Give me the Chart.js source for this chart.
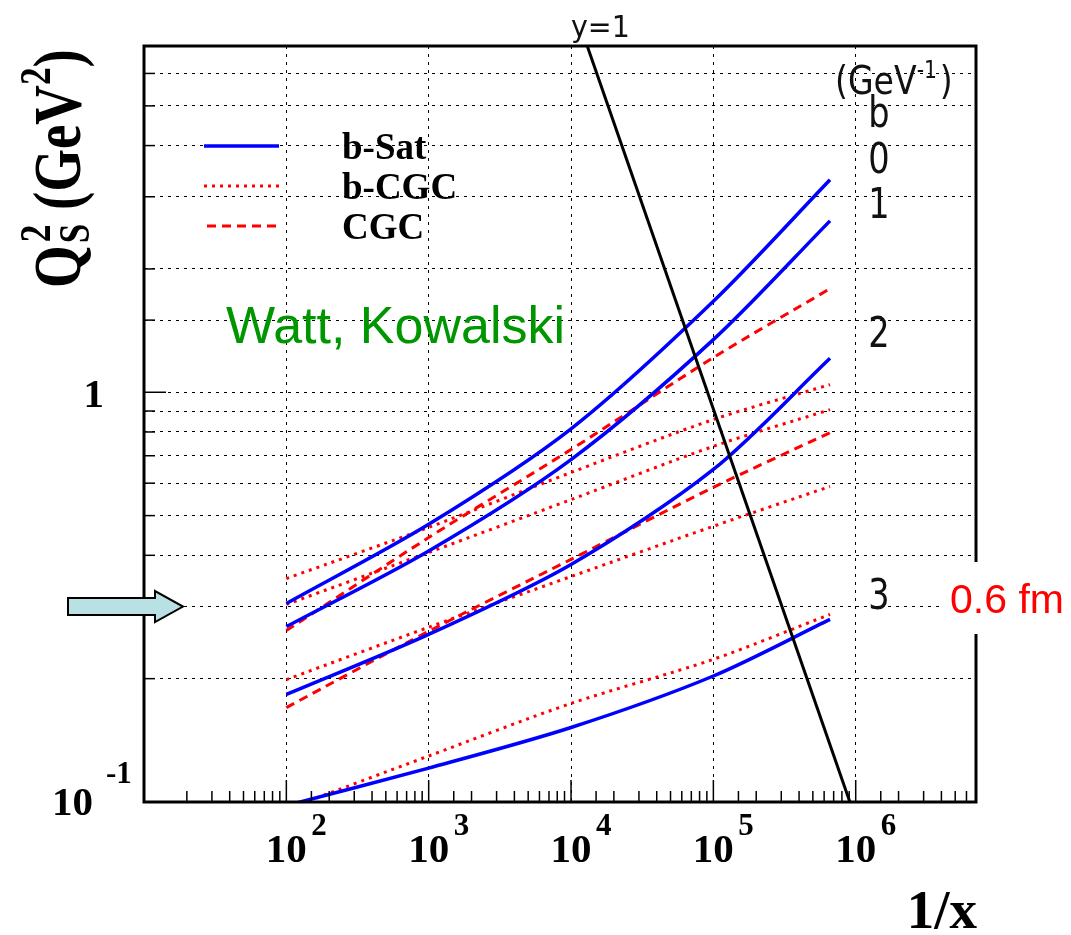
<!DOCTYPE html>
<html>
<head>
<meta charset="utf-8">
<title>Qs2 vs 1/x</title>
<script src="https://cdn.jsdelivr.net/npm/chart.js@4.4.0/dist/chart.umd.min.js"></script>
<style>
  html, body { margin: 0; padding: 0; background: #fff; }
  #wrap { width: 1071px; height: 935px; }
</style>
</head>
<body>
<div id="wrap"><canvas id="qs-chart" width="1071" height="935"></canvas></div>
<script>
// 1/x sample points shared by all curves
const invX = [1e2, 1e3, 1e4, 1e5, 6.6e5];

// b-Sat (solid blue), b = 0,1,2,3 GeV^-1
const bSat0 = [0.305, 0.476, 0.814, 1.667, 3.30];
const bSat1 = [0.268, 0.410, 0.685, 1.344, 2.62];
const bSat2 = [0.183, 0.2565, 0.380, 0.648, 1.21];
const bSat3 = [0.098, 0.121, 0.152, 0.203, 0.279];

// b-CGC (dotted red), b = 0,1,2,3 GeV^-1
const bCgc0 = [0.351, 0.468, 0.637, 0.858, 1.044];
const bCgc1 = [0.3035, 0.4065, 0.547, 0.738, 0.907];
const bCgc2 = [0.199, 0.267, 0.355, 0.471, 0.589];
const bCgc3 = [0.096, 0.1295, 0.174, 0.223, 0.287];

// CGC (dashed red)
const cgcA = [0.262, 0.442, 0.725, 1.215, 1.79];
const cgcB = [0.170, 0.261, 0.391, 0.586, 0.797];

// y = 1 kinematic limit
const yOneX = [1.3e4, 9.1e5];
const yOneQ = [7, 0.1];

// axis ranges and labels
const X_MIN = 10, X_MAX = 7e6;
const Y_MIN = 0.1, Y_MAX = 7;
const xLabelPowers = [2, 3, 4, 5, 6];
const bLabels = [
  { text: 'b', q: 4.84 },
  { text: '0', q: 3.74 },
  { text: '1', q: 2.90 },
  { text: '2', q: 1.40 },
  { text: '3', q: 0.321 }
];
const legendItems = [
  { label: 'b-Sat', color: '#0000ff', width: 3.5, dash: [] },
  { label: 'b-CGC', color: '#ff0000', width: 3, dash: [3, 5] },
  { label: 'CGC', color: '#ff0000', width: 3, dash: [9, 6] }
];

const SERIF = '"Liberation Serif", "Times New Roman", serif';
const SANS = '"Liberation Sans", Arial, sans-serif';

function toPoints(ys) {
  return ys.map((y, i) => ({ x: invX[i], y: y }));
}

function makeSet(label, ys, color, width, dash) {
  return {
    label: label,
    data: toPoints(ys),
    borderColor: color,
    backgroundColor: color,
    borderWidth: width,
    borderDash: dash,
    borderCapStyle: 'butt',
    pointRadius: 0,
    tension: 0.3,
    fill: false
  };
}

function isDecade(v) {
  const e = Math.log10(v);
  return Math.abs(e - Math.round(e)) < 1e-6;
}

// text with a horizontal squeeze (ROOT-like narrow font)
function drawNarrow(ctx, text, x, y, size, sx, align) {
  ctx.save();
  ctx.font = size + 'px "DejaVu Sans", sans-serif';
  ctx.translate(x, y);
  ctx.scale(sx, 1);
  ctx.textAlign = align || 'left';
  ctx.fillText(text, 0, 0);
  ctx.restore();
}

const decorPlugin = {
  id: 'decor',
  afterDraw(chart) {
    const ctx = chart.ctx;
    const a = chart.chartArea;
    const xs = chart.scales.x;
    const ys = chart.scales.y;

    ctx.save();
    ctx.strokeStyle = '#000';
    ctx.fillStyle = '#000';

    // inner tick marks
    ctx.lineWidth = 1.5;
    xs.ticks.forEach(t => {
      if (t.value <= X_MIN || t.value >= X_MAX) return;
      const px = xs.getPixelForValue(t.value);
      const len = isDecade(t.value) ? 22 : 11;
      ctx.beginPath();
      ctx.moveTo(px, a.bottom);
      ctx.lineTo(px, a.bottom - len);
      ctx.stroke();
    });
    ys.ticks.forEach(t => {
      if (t.value <= Y_MIN || t.value >= Y_MAX) return;
      const py = ys.getPixelForValue(t.value);
      const len = isDecade(t.value) ? 22 : 11;
      ctx.beginPath();
      ctx.moveTo(a.left, py);
      ctx.lineTo(a.left + len, py);
      ctx.stroke();
    });

    // frame
    ctx.lineWidth = 3;
    ctx.strokeRect(a.left, a.top, a.right - a.left, a.bottom - a.top);

    // x tick labels 10^n
    xLabelPowers.forEach(p => {
      const px = xs.getPixelForValue(Math.pow(10, p));
      ctx.font = 'bold 41px ' + SERIF;
      ctx.textAlign = 'center';
      ctx.fillText('10', px, 862);
      ctx.font = 'bold 31px ' + SERIF;
      ctx.textAlign = 'left';
      ctx.fillText(String(p), px + 25, 835);
    });

    // y tick labels
    ctx.font = 'bold 41px ' + SERIF;
    ctx.textAlign = 'right';
    ctx.fillText('1', 104, ys.getPixelForValue(1) + 15);
    ctx.fillText('10', 93, ys.getPixelForValue(0.1) + 13);
    ctx.font = 'bold 31px ' + SERIF;
    ctx.textAlign = 'left';
    ctx.fillText('-1', 106, ys.getPixelForValue(0.1) - 19);

    // x title
    ctx.font = 'bold 55px ' + SERIF;
    ctx.textAlign = 'right';
    ctx.fillText('1/x', 977, 928);

    // y title, rotated and stretched like the original
    ctx.save();
    ctx.translate(80, 288);
    ctx.rotate(-Math.PI / 2);
    ctx.scale(0.98, 1.22);
    ctx.textAlign = 'left';
    let cx = 0;
    ctx.font = 'bold 56px ' + SERIF;
    ctx.fillText('Q', cx, 0);
    cx += ctx.measureText('Q').width + 2;
    ctx.font = 'bold 36px ' + SERIF;
    ctx.fillText('S', cx, 7);
    ctx.fillText('2', cx + 1, -25);
    cx += ctx.measureText('S').width;
    ctx.font = 'bold 56px ' + SERIF;
    ctx.fillText(' (GeV', cx, 0);
    cx += ctx.measureText(' (GeV').width;
    ctx.font = 'bold 36px ' + SERIF;
    ctx.fillText('2', cx, -25);
    cx += ctx.measureText('2').width;
    ctx.font = 'bold 56px ' + SERIF;
    ctx.fillText(')', cx, 0);
    ctx.restore();

    // legend
    legendItems.forEach((it, i) => {
      const ly = 146 + i * 40;
      ctx.save();
      ctx.strokeStyle = it.color;
      ctx.lineWidth = it.width;
      ctx.setLineDash(it.dash);
      ctx.beginPath();
      ctx.moveTo(i === 2 ? 207 : 204, ly);
      ctx.lineTo(279, ly);
      ctx.stroke();
      ctx.restore();
      ctx.font = 'bold 37px ' + SERIF;
      ctx.textAlign = 'left';
      ctx.fillText(it.label, 342, ly + 13);
    });

    // authors
    ctx.fillStyle = '#009600';
    ctx.font = '52px ' + SANS;
    ctx.textAlign = 'left';
    ctx.fillText('Watt, Kowalski', 226, 343);

    // y = 1 label
    ctx.fillStyle = '#111';
    drawNarrow(ctx, 'y=1', 571, 37, 30, 0.95, 'left');

    // impact parameter labels on the right
    const gx = 835;
    drawNarrow(ctx, '(GeV', gx, 94, 39, 0.85, 'left');
    ctx.save();
    ctx.font = '39px "DejaVu Sans", sans-serif';
    const gw = ctx.measureText('(GeV').width * 0.85;
    ctx.restore();
    drawNarrow(ctx, '-1', gx + gw, 78, 24, 0.85, 'left');
    drawNarrow(ctx, ')', gx + gw + 23, 94, 39, 0.85, 'left');
    bLabels.forEach(b => {
      const py = ys.getPixelForValue(b.q);
      drawNarrow(ctx, b.text, 879, py + 15, 42, 0.8, 'center');
    });

    // arrow at Q2 = 0.3
    const ay = ys.getPixelForValue(0.3);
    ctx.beginPath();
    ctx.moveTo(68, ay - 8.5);
    ctx.lineTo(155, ay - 8.5);
    ctx.lineTo(155, ay - 15.5);
    ctx.lineTo(183, ay);
    ctx.lineTo(155, ay + 15.5);
    ctx.lineTo(155, ay + 8.5);
    ctx.lineTo(68, ay + 8.5);
    ctx.closePath();
    ctx.fillStyle = '#b9e0e3';
    ctx.fill();
    ctx.lineWidth = 2;
    ctx.strokeStyle = '#000';
    ctx.stroke();

    // 0.6 fm label over the right frame
    ctx.fillStyle = '#fff';
    ctx.fillRect(942, 562, 129, 72);
    ctx.fillStyle = '#ff0000';
    ctx.font = '41px ' + SANS;
    ctx.textAlign = 'left';
    ctx.fillText('0.6 fm', 950, 613);

    ctx.restore();
  }
};

function initChart() {
  const blue = '#0000ff', red = '#ff0000';
  const dotted = [3, 5], dashed = [9, 6];
  const yOne = {
    label: 'y=1',
    data: yOneX.map((x, i) => ({ x: x, y: yOneQ[i] })),
    borderColor: '#000',
    borderWidth: 3,
    pointRadius: 0,
    tension: 0,
    fill: false
  };

  new Chart(document.getElementById('qs-chart').getContext('2d'), {
    type: 'line',
    data: {
      datasets: [
        yOne,
        makeSet('b-Sat b=0', bSat0, blue, 3.5, []),
        makeSet('b-Sat b=1', bSat1, blue, 3.5, []),
        makeSet('b-Sat b=2', bSat2, blue, 3.5, []),
        makeSet('b-Sat b=3', bSat3, blue, 3.5, []),
        makeSet('b-CGC b=0', bCgc0, red, 3, dotted),
        makeSet('b-CGC b=1', bCgc1, red, 3, dotted),
        makeSet('b-CGC b=2', bCgc2, red, 3, dotted),
        makeSet('b-CGC b=3', bCgc3, red, 3, dotted),
        makeSet('CGC 1', cgcA, red, 3, dashed),
        makeSet('CGC 2', cgcB, red, 3, dashed)
      ]
    },
    options: {
      responsive: false,
      animation: false,
      layout: { padding: { left: 144, top: 46, right: 95, bottom: 133 } },
      plugins: {
        legend: { display: false },
        tooltip: { enabled: false }
      },
      scales: {
        x: {
          type: 'logarithmic',
          min: X_MIN,
          max: X_MAX,
          ticks: { display: false },
          grid: {
            drawTicks: false,
            lineWidth: 1,
            color: c => (c.tick && isDecade(c.tick.value)) ? '#000' : 'rgba(0,0,0,0)'
          },
          border: { display: false, dash: [3, 5] }
        },
        y: {
          type: 'logarithmic',
          min: Y_MIN,
          max: Y_MAX,
          ticks: { display: false },
          grid: { drawTicks: false, lineWidth: 1, color: '#000' },
          border: { display: false, dash: [3, 5] }
        }
      }
    },
    plugins: [decorPlugin]
  });
}

initChart();
</script>
</body>
</html>
